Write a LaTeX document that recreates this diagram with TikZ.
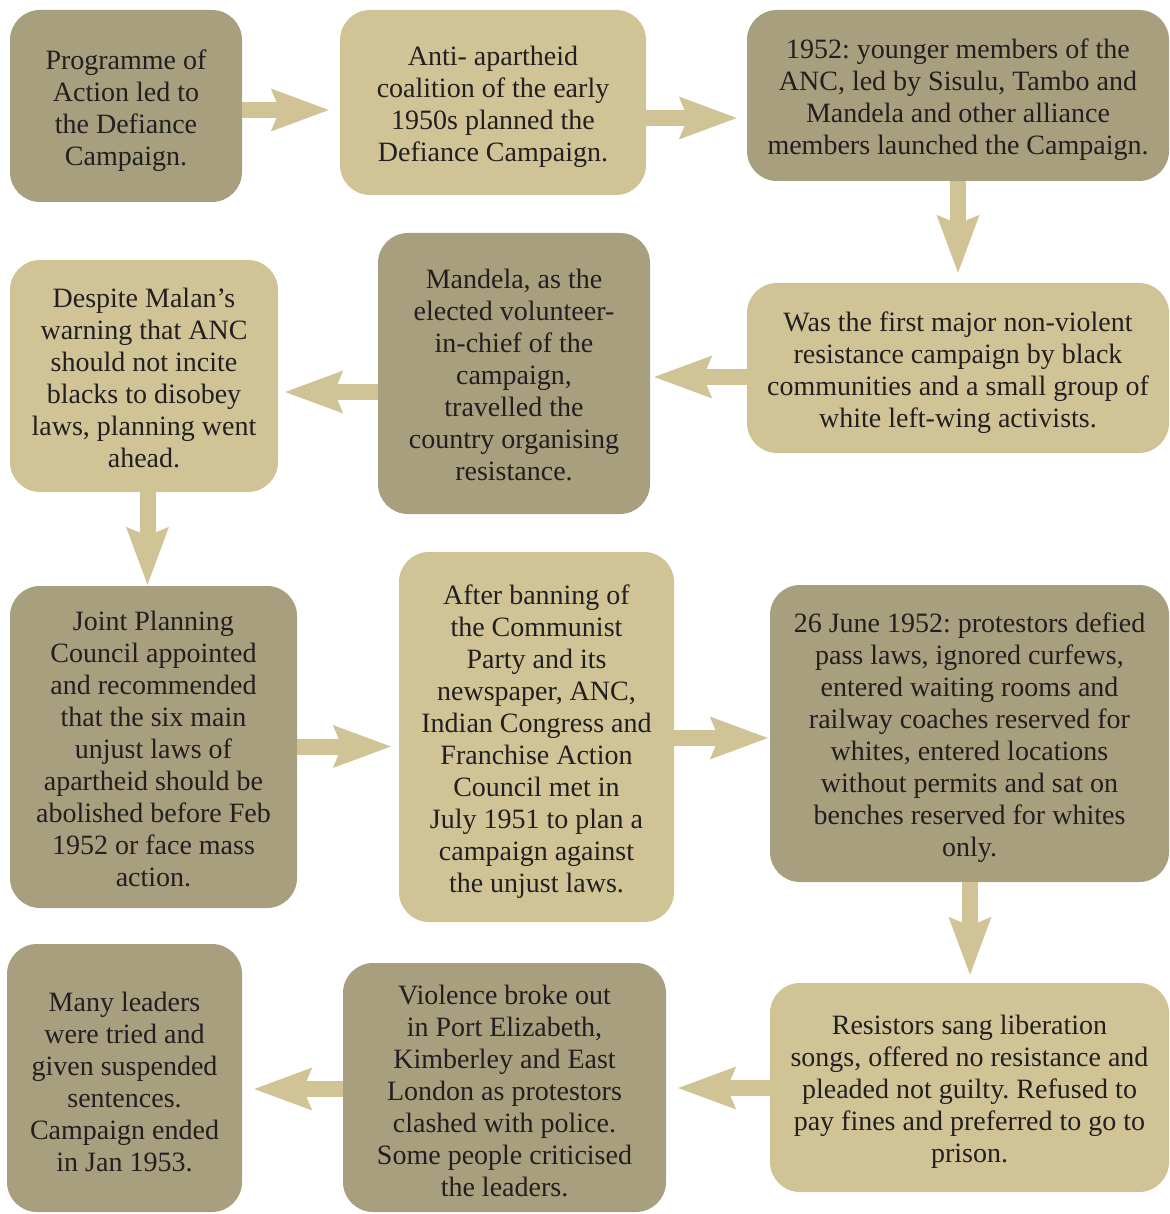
\documentclass[tikz,border=0pt]{standalone}
\usepackage{fontspec}
\setmainfont{Liberation Serif}
\usetikzlibrary{arrows.meta}
\definecolor{dk}{HTML}{A89F7E}
\definecolor{lt}{HTML}{D0C497}
\definecolor{txt}{HTML}{231F20}
\frenchspacing
\begin{document}
\begin{tikzpicture}[x=1pt,y=-1pt,
  box/.style={rounded corners=30pt, inner sep=0pt},
  dkbox/.style={box, fill=dk},
  ltbox/.style={box, fill=lt},
  lbl/.style={inner sep=0pt, align=center, text=txt,
    font=\fontsize{28}{32}\selectfont\frenchspacing,
    execute at end node={\rule[-7pt]{0pt}{7pt}}},
  arr/.style={draw=lt, line width=16pt,
    -{Stealth[length=58pt,width=43pt,inset=9pt,line width=0pt]}}]
\useasboundingbox (0,0) rectangle (1169,1214);

\node[dkbox, minimum width=232pt, minimum height=192pt] (b1) at (126,106) {};
\node[ltbox, minimum width=306pt, minimum height=185pt] (b2) at (493,102.5) {};
\node[dkbox, minimum width=422pt, minimum height=171pt] (b3) at (958,95.5) {};
\node[ltbox, minimum width=422pt, minimum height=170pt] (b4) at (958,368) {};
\node[dkbox, minimum width=272pt, minimum height=281pt] (b5) at (514,373.5) {};
\node[ltbox, minimum width=268pt, minimum height=232pt] (b6) at (144,376) {};
\node[dkbox, minimum width=287pt, minimum height=322pt] (b7) at (153.5,747) {};
\node[ltbox, minimum width=275pt, minimum height=370pt] (b8) at (536.5,737) {};
\node[dkbox, minimum width=399pt, minimum height=297pt] (b9) at (969.5,733.5) {};
\node[ltbox, minimum width=399pt, minimum height=209pt] (b10) at (969.5,1087.5) {};
\node[dkbox, minimum width=323pt, minimum height=249pt] (b11) at (504.5,1087.5) {};
\node[dkbox, minimum width=235pt, minimum height=268pt] (b12) at (124.5,1078) {};

\node[lbl] (t1) at ([yshift=-5pt]b1.center)
  {Programme of\\Action led to\\the Defiance\\Campaign.};
\node[lbl] (t2) at ([yshift=-5pt]b2.center)
  {Anti- apartheid\\coalition of the early\\1950s planned the\\Defiance Campaign.};
\node[lbl] (t3) at ([yshift=-5pt]b3.center)
  {1952: younger members of the\\ANC, led by Sisulu, Tambo and\\Mandela and other alliance\\members launched the Campaign.};
\node[lbl] (t4) at ([yshift=-5pt]b4.center)
  {Was the first major non-violent\\resistance campaign by black\\communities and a small group of\\white left-wing activists.};
\node[lbl] (t5) at ([yshift=-5pt]b5.center)
  {Mandela, as the\\elected volunteer-\\in-chief of the\\campaign,\\travelled the\\country organising\\resistance.};
\node[lbl] (t6) at ([yshift=-5pt]b6.center)
  {Despite Malan’s\\warning that ANC\\should not incite\\blacks to disobey\\laws, planning went\\ahead.};
\node[lbl] (t7) at ([yshift=-5pt]b7.center)
  {Joint Planning\\Council appointed\\and recommended\\that the six main\\unjust laws of\\apartheid should be\\abolished before Feb\\1952 or face mass\\action.};
\node[lbl] (t8) at ([yshift=-5pt]b8.center)
  {After banning of\\the Communist\\Party and its\\newspaper, ANC,\\Indian Congress and\\Franchise Action\\Council met in\\July 1951 to plan a\\campaign against\\the unjust laws.};
\node[lbl] (t9) at ([yshift=-5pt]b9.center)
  {26 June 1952: protestors defied\\pass laws, ignored curfews,\\entered waiting rooms and\\railway coaches reserved for\\whites, entered locations\\without permits and sat on\\benches reserved for whites\\only.};
\node[lbl] (t10) at ([yshift=-5pt]b10.center)
  {Resistors sang liberation\\songs, offered no resistance and\\pleaded not guilty. Refused to\\pay fines and preferred to go to\\prison.};
\node[lbl] (t11) at ([yshift=-7pt]b11.center)
  {Violence broke out\\in Port Elizabeth,\\Kimberley and East\\London as protestors\\clashed with police.\\Some people criticised\\the leaders.};
\node[lbl] (t12) at ([yshift=-7pt]b12.center)
  {Many leaders\\were tried and\\given suspended\\sentences.\\Campaign ended\\in Jan 1953.};

\draw[arr, shorten >=11pt] (b1.east |- 0,110) -- (b2.west |- 0,110);
\draw[arr, shorten >=10pt] (b2.east |- 0,118) -- (b3.west |- 0,118);
\draw[arr, shorten >=10pt] (b3.south) -- (b4.north);
\draw[arr, shorten >=4pt] (b4.west |- 0,377) -- (b5.east |- 0,377);
\draw[arr, shorten >=7pt] (b5.west |- 0,392) -- (b6.east |- 0,392);
\draw[arr, shorten >=1pt] (b6.south -| 147.5,0) -- (b7.north -| 147.5,0);
\draw[arr, shorten >=8pt] (b7.east |- 0,746.5) -- (b8.west |- 0,746.5);
\draw[arr, shorten >=2pt] (b8.east |- 0,738) -- (b9.west |- 0,738);
\draw[arr, shorten >=8pt] (b9.south -| 970,0) -- (b10.north -| 970,0);
\draw[arr, shorten >=12pt] (b10.west |- 0,1088) -- (b11.east |- 0,1088);
\draw[arr, shorten >=12pt] (b11.west |- 0,1089) -- (b12.east |- 0,1089);
\end{tikzpicture}
\end{document}
